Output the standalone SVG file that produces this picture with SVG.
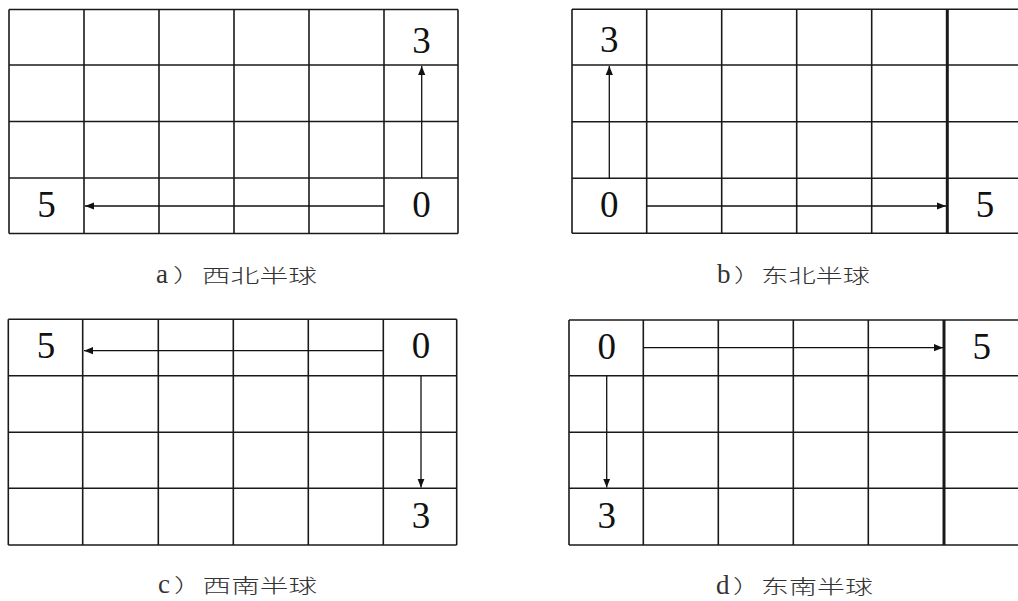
<svg xmlns="http://www.w3.org/2000/svg" width="1018" height="601" viewBox="0 0 1018 601">
<style>
.g line{stroke:#1a1a1a;stroke-width:1.6;fill:none}
.g line.thick{stroke-width:3}
.num{font-family:"Liberation Serif","DejaVu Serif",serif;font-size:37px;fill:#111;text-anchor:middle}
.cap{font-family:"Noto Sans CJK SC",sans-serif;font-size:19px;fill:#333;font-weight:300}
.lat{font-family:"Liberation Serif",serif;font-size:27px;fill:#333}
.arr line{stroke:#111;stroke-width:1.3;marker-end:url(#ah)}
</style>
<defs>
<marker id="ah" viewBox="0 0 10 10" refX="10" refY="5" markerWidth="9" markerHeight="9" markerUnits="userSpaceOnUse" orient="auto">
<path d="M0,1 L10,5 L0,9 Z" fill="#111"/>
</marker>
</defs>
<rect width="1018" height="601" fill="#fff"/>

<g id="gridA" class="g">
<line x1="9" y1="9.5" x2="458" y2="9.5"/><line x1="9" y1="65" x2="458" y2="65"/><line x1="9" y1="121.5" x2="458" y2="121.5"/><line x1="9" y1="178" x2="458" y2="178"/><line x1="9" y1="233.5" x2="458" y2="233.5"/>
<line x1="9" y1="9.5" x2="9" y2="233.5"/><line x1="84" y1="9.5" x2="84" y2="233.5"/><line x1="159" y1="9.5" x2="159" y2="233.5"/><line x1="234" y1="9.5" x2="234" y2="233.5"/><line x1="309" y1="9.5" x2="309" y2="233.5"/><line x1="384" y1="9.5" x2="384" y2="233.5"/><line x1="458" y1="9.5" x2="458" y2="233.5"/>
<text class="num" x="421.5" y="53">3</text><text class="num" x="421.5" y="217">0</text><text class="num" x="46.5" y="217">5</text>
</g>

<g id="gridB" class="g">
<line x1="572" y1="9.3" x2="1018" y2="9.3"/><line x1="572" y1="65" x2="1018" y2="65"/><line x1="572" y1="121.7" x2="1018" y2="121.7"/><line x1="572" y1="178.3" x2="1018" y2="178.3"/><line x1="572" y1="233.3" x2="1018" y2="233.3"/>
<line x1="572" y1="9.3" x2="572" y2="233.3"/><line x1="646.7" y1="9.3" x2="646.7" y2="233.3"/><line x1="721.7" y1="9.3" x2="721.7" y2="233.3"/><line x1="796.7" y1="9.3" x2="796.7" y2="233.3"/><line x1="871.7" y1="9.3" x2="871.7" y2="233.3"/><line class="thick" x1="947.3" y1="9.3" x2="947.3" y2="233.3"/>
<text class="num" x="609.3" y="52">3</text><text class="num" x="609.3" y="217">0</text><text class="num" x="985" y="217">5</text>
</g>

<g id="gridC" class="g">
<line x1="8.3" y1="319.3" x2="456.7" y2="319.3"/><line x1="8.3" y1="375.7" x2="456.7" y2="375.7"/><line x1="8.3" y1="432.3" x2="456.7" y2="432.3"/><line x1="8.3" y1="488.3" x2="456.7" y2="488.3"/><line x1="8.3" y1="545" x2="456.7" y2="545"/>
<line x1="8.3" y1="319.3" x2="8.3" y2="545"/><line x1="82.7" y1="319.3" x2="82.7" y2="545"/><line x1="158.3" y1="319.3" x2="158.3" y2="545"/><line x1="233.3" y1="319.3" x2="233.3" y2="545"/><line x1="308.3" y1="319.3" x2="308.3" y2="545"/><line x1="383.3" y1="319.3" x2="383.3" y2="545"/><line x1="456.7" y1="319.3" x2="456.7" y2="545"/>
<text class="num" x="46" y="358">5</text><text class="num" x="421" y="358">0</text><text class="num" x="421" y="528">3</text>
</g>

<g id="gridD" class="g">
<line x1="569" y1="320" x2="1018" y2="320"/><line x1="569" y1="375.7" x2="1018" y2="375.7"/><line x1="569" y1="432.3" x2="1018" y2="432.3"/><line x1="569" y1="488.3" x2="1018" y2="488.3"/><line x1="569" y1="545" x2="1018" y2="545"/>
<line x1="569" y1="320" x2="569" y2="545"/><line x1="643.3" y1="320" x2="643.3" y2="545"/><line x1="718.3" y1="320" x2="718.3" y2="545"/><line x1="793.3" y1="320" x2="793.3" y2="545"/><line x1="868.3" y1="320" x2="868.3" y2="545"/><line class="thick" x1="944" y1="320" x2="944" y2="545"/>
<text class="num" x="606.7" y="359">0</text><text class="num" x="981.7" y="359">5</text><text class="num" x="606.7" y="528">3</text>
</g>

<g id="connectors" class="arr">
<line x1="384" y1="206" x2="85" y2="206"/>
<line x1="421.7" y1="178" x2="421.7" y2="66"/>
<line x1="609.3" y1="178.3" x2="609.3" y2="66"/>
<line x1="647" y1="206" x2="946" y2="206"/>
<line x1="383.3" y1="350.7" x2="84" y2="350.7"/>
<line x1="421" y1="375.7" x2="421" y2="487.5"/>
<line x1="643.3" y1="347.7" x2="943" y2="347.7"/>
<line x1="606.7" y1="375.7" x2="606.7" y2="487.5"/>
</g>

<g id="captions">
<text class="lat" x="156" y="283">a</text>
<text class="cap" x="173" y="283" textLength="144" lengthAdjust="spacingAndGlyphs">）西北半球</text>
<text class="lat" x="717" y="283">b</text>
<text class="cap" x="734" y="283" textLength="136" lengthAdjust="spacingAndGlyphs">）东北半球</text>
<text class="lat" x="158" y="593">c</text>
<text class="cap" x="174" y="593" textLength="143" lengthAdjust="spacingAndGlyphs">）西南半球</text>
<text class="lat" x="716" y="594">d</text>
<text class="cap" x="733" y="594" textLength="140" lengthAdjust="spacingAndGlyphs">）东南半球</text>
</g>
</svg>
